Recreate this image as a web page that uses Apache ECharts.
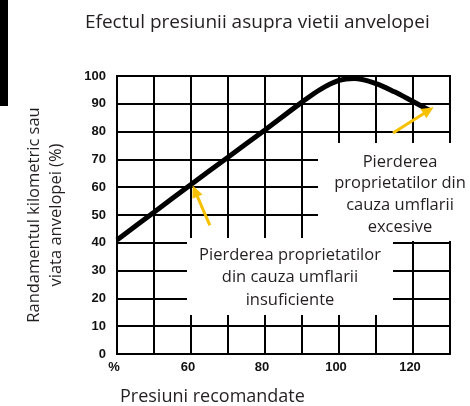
<!DOCTYPE html>
<html>
<head>
<meta charset="utf-8">
<script src="https://cdn.jsdelivr.net/npm/echarts@6/dist/echarts.min.js"></script>
<style>
  html, body { margin: 0; padding: 0; background: #fff; }
  #chart { width: 470px; height: 406px; }
</style>
</head>
<body>
<div id="chart"></div>
<script>
// Tyre life (%) as a function of inflation pressure (% of recommended)
const pressure = [40, 50, 60, 70, 80, 90, 95, 100, 104, 110, 115, 120, 124.5];
const lifePct  = [41, 51, 61, 70.8, 80.6, 90.6, 95.2, 98.4, 99.1, 97.3, 94.3, 90.8, 87.6];

// Tick labels shown under the x axis (others stay blank)
const xTickLabels = { 40: '%', 60: '60', 80: '80', 100: '100', 120: '120' };

// Annotation arrows: [tail, head] in data units
const arrowUnder  = [[65.1, 46.3], [61.1, 58.6]];
const arrowOver   = [[114.6, 79.5], [124.2, 87.6]];

const titleText   = 'Efectul presiunii asupra vietii anvelopei';
const xName       = 'Presiuni recomandate';
const yName       = 'Randamentul kilometric sau\nviata anvelopei (%)';
const noteOver    = 'Pierderea\nproprietatilor din\ncauza umflarii\nexcesive';
const noteUnder   = 'Pierderea proprietatilor\ndin cauza umflarii\ninsuficiente';

const ink = '#231f20';
const arrowColor = '#f7c100';
const textFont = 'Open Sans';

const chart = echarts.init(document.getElementById('chart'), null, { renderer: 'canvas' });

const arrowLine = (pair) => [
  { coord: pair[0] },
  { coord: pair[1] }
];

chart.setOption({
  animation: false,
  backgroundColor: '#fff',
  title: [
    {
      text: titleText,
      left: 85, top: 13, padding: 0,
      textStyle: { fontFamily: textFont, fontWeight: 'normal', fontSize: 19, color: ink }
    },
    {
      text: xName,
      left: 120, top: 388, padding: 0,
      textStyle: { fontFamily: textFont, fontWeight: 'normal', fontSize: 18, color: ink }
    }
  ],
  grid: {
    left: 117, top: 76, right: 20, bottom: 52,
    show: true, borderColor: '#000', borderWidth: 2, backgroundColor: 'transparent'
  },
  xAxis: {
    type: 'value',
    min: 40, max: 130, interval: 10,
    axisLine: { show: true, lineStyle: { color: '#000', width: 2 } },
    axisTick: { show: false },
    splitLine: { show: true, lineStyle: { color: '#000', width: 2 } },
    axisLabel: {
      margin: 7,
      fontFamily: 'Liberation Sans', fontWeight: 'bold', fontSize: 13, color: '#111',
      padding: [0, 6, 0, 0],
      showMaxLabel: false,
      formatter: (v) => xTickLabels[v] || ''
    }
  },
  yAxis: {
    type: 'value',
    min: 0, max: 100, interval: 10,
    name: yName,
    nameLocation: 'middle',
    nameRotate: 90,
    nameGap: 50,
    nameTextStyle: { fontFamily: textFont, fontSize: 16.5, lineHeight: 22, color: ink },
    axisLine: { show: true, lineStyle: { color: '#000', width: 2 } },
    axisTick: { show: false },
    splitLine: { show: true, lineStyle: { color: '#000', width: 2 } },
    axisLabel: {
      margin: 11,
      fontFamily: 'Liberation Sans', fontWeight: 'bold', fontSize: 13, color: '#111'
    }
  },
  series: [
    {
      type: 'line',
      data: pressure.map((p, i) => [p, lifePct[i]]),
      smooth: 0.35,
      showSymbol: false,
      lineStyle: { color: '#000', width: 5, cap: 'butt' },
      z: 5,
      markLine: {
        silent: true,
        symbol: ['none', 'triangle'],
        symbolSize: [11, 12],
        label: { show: false },
        lineStyle: { color: arrowColor, width: 3, type: 'solid' },
        itemStyle: { color: arrowColor },
        data: [arrowLine(arrowUnder), arrowLine(arrowOver)],
        z: 6
      }
    }
  ],
  graphic: [
    // black edge strip at the top-left
    { type: 'rect', left: 0, top: 0, shape: { width: 8, height: 106 }, style: { fill: '#000' }, z: 10 },
    // note about over-inflation
    { type: 'rect', shape: { x: 318, y: 143, width: 152, height: 98 }, style: { fill: '#fff' }, z: 10 },
    {
      type: 'text', x: 400, y: 194.5, z: 11,
      style: {
        text: noteOver, fill: ink, font: '16.5px "Open Sans"',
        align: 'center', verticalAlign: 'middle', lineHeight: 21.7
      }
    },
    // note about under-inflation
    { type: 'rect', shape: { x: 187, y: 238, width: 206, height: 77 }, style: { fill: '#fff' }, z: 10 },
    {
      type: 'text', x: 290, y: 277.5, z: 11,
      style: {
        text: noteUnder, fill: ink, font: '16.5px "Open Sans"',
        align: 'center', verticalAlign: 'middle', lineHeight: 22.5
      }
    }
  ]
});
</script>
</body>
</html>
